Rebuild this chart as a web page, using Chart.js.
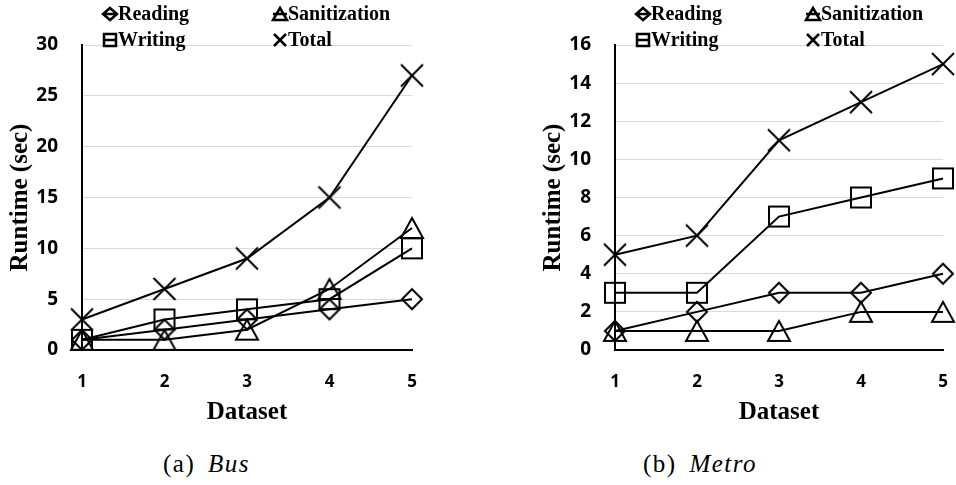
<!DOCTYPE html>
<html>
<head>
<meta charset="utf-8">
<script src="https://cdn.jsdelivr.net/npm/chart.js@4.4.1/dist/chart.umd.min.js"></script>
<style>
  body { margin: 0; background: #fff; width: 956px; height: 485px; position: relative; overflow: hidden; }
  .panel { position: absolute; top: 0; width: 478px; height: 430px; }
  .caption {
    position: absolute; top: 451px; line-height: 25px;
    font-family: "Liberation Serif", serif; font-size: 25px; color: #000;
    letter-spacing: 1.5px; word-spacing: 5px; white-space: nowrap;
  }
</style>
</head>
<body>
<div class="panel" style="left:0"><canvas id="busChart" width="478" height="430"></canvas></div>
<div class="panel" style="left:478px"><canvas id="metroChart" width="478" height="430"></canvas></div>
<div class="caption" style="left:163px">(a) <i>Bus</i></div>
<div class="caption" style="left:643px">(b) <i>Metro</i></div>

<script>
const datasetLabels = ["1", "2", "3", "4", "5"];
const seriesNames = ["Reading", "Sanitization", "Writing", "Total"];
const seriesMarkers = ["diamond", "triangle", "square", "cross"];

// Bus
const busReading = [1, 2, 3, 4, 5];
const busSanitization = [1, 1, 2, 6, 12];
const busWriting = [1, 3, 4, 5, 10];
const busTotal = [3, 6, 9, 15, 27];
const busYTicks = [0, 5, 10, 15, 20, 25, 30];

// Metro
const metroReading = [1, 2, 3, 3, 4];
const metroSanitization = [1, 1, 1, 2, 2];
const metroWriting = [3, 3, 7, 8, 9];
const metroTotal = [5, 6, 11, 13, 15];
const metroYTicks = [0, 2, 4, 6, 8, 10, 12, 14, 16];

// hollow markers, drawn once and reused as point images
function makeMarker(kind) {
    const c = document.createElement("canvas");
    c.width = 28;
    c.height = 28;
    const g = c.getContext("2d");
    const m = 14;
    g.strokeStyle = "#000";
    g.lineWidth = 2;
    g.beginPath();
    if (kind === "diamond") {
        g.moveTo(m, m - 10);
        g.lineTo(m + 10, m);
        g.lineTo(m, m + 10);
        g.lineTo(m - 10, m);
        g.closePath();
    } else if (kind === "square") {
        g.rect(m - 10, m - 10, 20, 20);
    } else if (kind === "triangle") {
        g.moveTo(m, m - 10);
        g.lineTo(m + 11, m + 10);
        g.lineTo(m - 11, m + 10);
        g.closePath();
    } else {
        g.moveTo(m - 11, m - 11);
        g.lineTo(m + 11, m + 11);
        g.moveTo(m + 11, m - 11);
        g.lineTo(m - 11, m + 11);
    }
    g.stroke();
    return c;
}

const markerImages = {};
seriesMarkers.forEach(k => { markerImages[k] = makeMarker(k); });

function drawLegendIcon(ctx, kind, x, y) {
    ctx.beginPath();
    if (kind === "diamond") {
        ctx.moveTo(x, y - 6);
        ctx.lineTo(x + 7, y);
        ctx.lineTo(x, y + 6);
        ctx.lineTo(x - 7, y);
        ctx.closePath();
    } else if (kind === "square") {
        ctx.rect(x - 6, y - 6, 12, 12);
    } else if (kind === "triangle") {
        ctx.moveTo(x, y - 6);
        ctx.lineTo(x + 7, y + 6);
        ctx.lineTo(x - 7, y + 6);
        ctx.closePath();
    } else {
        ctx.moveTo(x - 6, y - 6);
        ctx.lineTo(x + 6, y + 6);
        ctx.moveTo(x + 6, y - 6);
        ctx.lineTo(x - 6, y + 6);
    }
    if (kind !== "cross") {
        ctx.moveTo(x - 7, y);
        ctx.lineTo(x + 7, y);
    }
    ctx.stroke();
}

// two-column legend sitting over the top of the plot
const cornerLegend = {
    id: "cornerLegend",
    afterDraw(chart) {
        const ctx = chart.ctx;
        const left = chart.chartArea.left;
        ctx.save();
        ctx.font = "bold 20px 'Liberation Serif'";
        ctx.textBaseline = "middle";
        ctx.fillStyle = "#000";
        ctx.strokeStyle = "#000";
        ctx.lineWidth = 2.5;
        chart.data.datasets.forEach((ds, i) => {
            const x = left + (i % 2 ? 198 : 28);
            const y = i < 2 ? 14 : 40;
            drawLegendIcon(ctx, ds.marker, x, y);
            ctx.fillText(ds.label, x + 8, y + 1);
        });
        ctx.restore();
    }
};

const tickFont = { family: "'Open Sans'", weight: "bold" };
const titleFont = { family: "'Liberation Serif'", size: 25, weight: "bold" };
const clear = "rgba(0,0,0,0)";

function buildChart(id, series, yTicks, padLeft, padRight) {
    return new Chart(document.getElementById(id), {
        type: "line",
        data: {
            labels: datasetLabels,
            datasets: series.map((values, i) => ({
                label: seriesNames[i],
                marker: seriesMarkers[i],
                data: values,
                borderColor: "#000",
                borderWidth: 2,
                tension: 0,
                fill: false,
                pointStyle: markerImages[seriesMarkers[i]],
                pointRadius: 11,
                pointHoverRadius: 11,
                clip: false
            }))
        },
        options: {
            responsive: false,
            animation: false,
            devicePixelRatio: 1,
            events: [],
            layout: { padding: { left: padLeft, right: padRight, top: 45, bottom: 0 } },
            plugins: {
                legend: { display: false },
                tooltip: { enabled: false }
            },
            scales: {
                x: {
                    offset: false,
                    // invisible tick marks push the labels down without widening the side padding
                    grid: { color: clear, tickColor: clear, drawTicks: true, tickLength: 20 },
                    border: { color: "#000", width: 2 },
                    ticks: {
                        color: "#000",
                        padding: 2,
                        maxRotation: 0,
                        autoSkip: false,
                        font: { ...tickFont, size: 17 }
                    },
                    title: {
                        display: true,
                        text: "Dataset",
                        color: "#000",
                        padding: { top: 0, bottom: 2 },
                        font: titleFont
                    },
                    afterFit(scale) { scale.height = 80; }
                },
                y: {
                    min: yTicks[0],
                    max: yTicks[yTicks.length - 1],
                    ticks: {
                        stepSize: yTicks[1] - yTicks[0],
                        color: "#000",
                        padding: 24,
                        font: { ...tickFont, size: 19 }
                    },
                    grid: {
                        color: c => (c.tick && c.tick.value === 0 ? clear : "#d9d9d9"),
                        lineWidth: 1,
                        drawTicks: false
                    },
                    border: { color: "#000", width: 2 },
                    title: {
                        display: true,
                        text: "Runtime (sec)",
                        color: "#000",
                        padding: { top: 6, bottom: 0 },
                        font: titleFont
                    },
                    afterFit(scale) { scale.width = 82; }
                }
            }
        },
        plugins: [cornerLegend]
    });
}

buildChart("busChart", [busReading, busSanitization, busWriting, busTotal], busYTicks, 0, 66);
buildChart("metroChart", [metroReading, metroSanitization, metroWriting, metroTotal], metroYTicks, 55, 12);
</script>
</body>
</html>
